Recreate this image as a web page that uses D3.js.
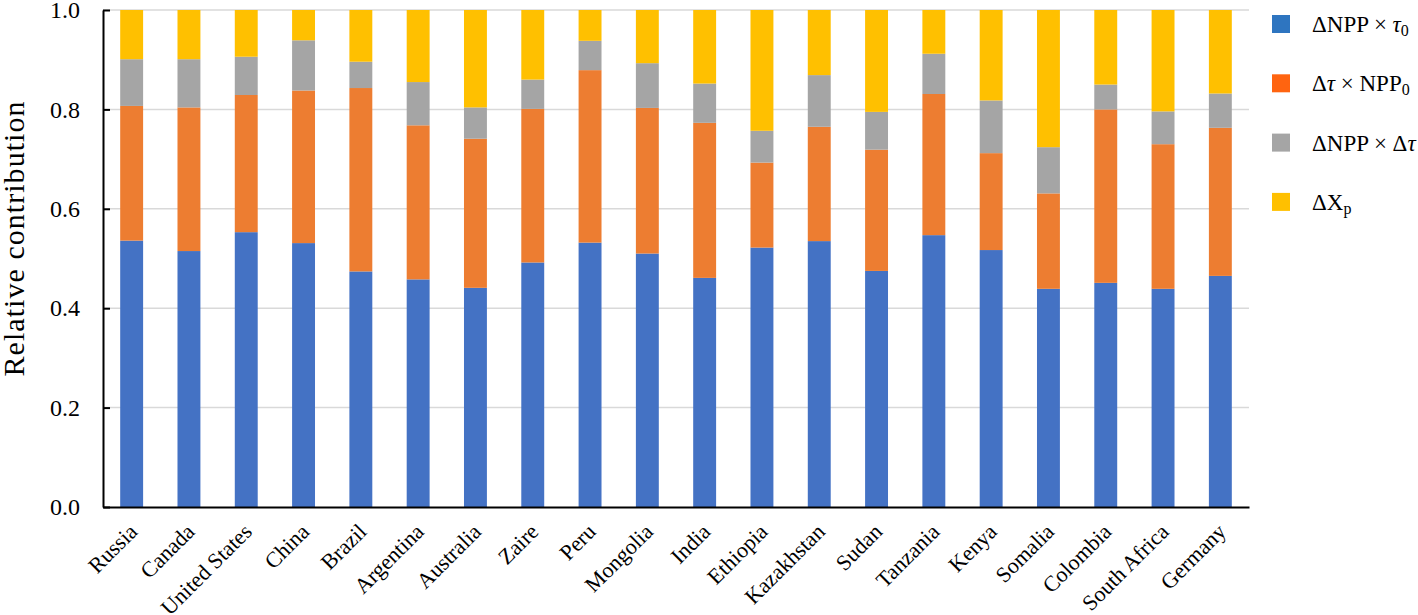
<!DOCTYPE html>
<html>
<head>
<meta charset="utf-8">
<script src="https://cdn.jsdelivr.net/npm/d3@7"></script>
<style>
  html, body { margin: 0; padding: 0; background: #fff; }
  svg { display: block; font-family: "Liberation Serif", "Times New Roman", serif; }
</style>
</head>
<body>
<svg id="chart" width="1418" height="615"></svg>
<script>
const categories = ["Russia","Canada","United States","China","Brazil","Argentina","Australia","Zaire","Peru","Mongolia","India","Ethiopia","Kazakhstan","Sudan","Tanzania","Kenya","Somalia","Colombia","South Africa","Germany"];
const dNPPxTau0 = [0.536,0.515,0.553,0.531,0.474,0.458,0.441,0.492,0.532,0.510,0.461,0.522,0.535,0.475,0.547,0.517,0.439,0.451,0.439,0.465];
const dTauxNPP0 = [0.271,0.289,0.276,0.307,0.369,0.310,0.300,0.309,0.347,0.293,0.312,0.171,0.230,0.244,0.284,0.195,0.192,0.349,0.291,0.298];
const dNPPxdTau = [0.094,0.097,0.077,0.101,0.053,0.087,0.063,0.059,0.059,0.090,0.079,0.064,0.104,0.076,0.081,0.106,0.093,0.050,0.066,0.069];
const dXp       = [0.099,0.099,0.094,0.061,0.104,0.145,0.196,0.140,0.062,0.107,0.148,0.243,0.131,0.205,0.088,0.182,0.276,0.150,0.204,0.168];
const yTicks = [0, 0.2, 0.4, 0.6, 0.8, 1.0];
const seriesKeys = ["a","b","c","d"];
const barColors = ["#4472C4","#ED7D31","#A5A5A5","#FFC000"];
const legendColors = ["#2E75C0","#FF6410","#A5A5A5","#FFC000"];

const rows = categories.map((c, i) => ({cat: c, a: dNPPxTau0[i], b: dTauxNPP0[i], c: dNPPxdTau[i], d: dXp[i]}));

const svg = d3.select("#chart");
const L = 103, R = 1249, T = 10, B = 507;

const x = d3.scaleBand().domain(categories).range([L, R]).paddingInner(0.6).paddingOuter(0.3);
const y = d3.scaleLinear().domain([0, 1]).range([B, T]);

// gridlines
svg.append("g").selectAll("line").data(yTicks.filter(d => d > 0)).join("line")
  .attr("x1", L).attr("x2", R)
  .attr("y1", d => y(d)).attr("y2", d => y(d))
  .attr("stroke", "#d9d9d9").attr("stroke-width", 1.5);

const stack = d3.stack().keys(seriesKeys)(rows);

svg.append("g").selectAll("g").data(stack).join("g")
  .attr("fill", (d, i) => barColors[i])
  .selectAll("rect").data(d => d).join("rect")
  .attr("x", d => x(d.data.cat))
  .attr("width", x.bandwidth())
  .attr("y", d => y(Math.min(1, d[1])))
  .attr("height", d => y(d[0]) - y(Math.min(1, d[1])));

// y axis (ticks pointing inward)
const yAxis = svg.append("g").attr("transform", `translate(${L},0)`)
  .call(d3.axisLeft(y).tickValues(yTicks).tickFormat(d3.format(".1f")).tickSizeInner(-7).tickSizeOuter(0).tickPadding(23));
yAxis.select(".domain").attr("stroke", "#000").attr("stroke-width", 2);
yAxis.selectAll(".tick line").attr("stroke", "#000").attr("stroke-width", 2);
yAxis.selectAll(".tick text").attr("font-size", 24).attr("fill", "#000")
  .attr("font-family", "Liberation Serif");

// x axis
const xAxis = svg.append("g").attr("transform", `translate(0,${B})`)
  .call(d3.axisBottom(x).tickSize(0).tickSizeOuter(0));
xAxis.select(".domain").attr("stroke", "#000").attr("stroke-width", 2);
xAxis.selectAll(".tick text")
  .attr("font-size", 22).attr("fill", "#000").attr("font-family", "Liberation Serif")
  .attr("text-anchor", "end")
  .attr("x", 0).attr("y", 0).attr("dy", 0)
  .attr("transform", "translate(7,26) rotate(-45)");

// y title
svg.append("text")
  .attr("transform", "translate(24,239) rotate(-90)")
  .attr("text-anchor", "middle")
  .attr("font-size", 30)
  .attr("textLength", 275)
  .attr("lengthAdjust", "spacing")
  .attr("fill", "#000")
  .text("Relative contribution");

// legend
const legendItems = [
  [{t:"ΔNPP × "},{t:"τ", it:true},{t:"0", sub:true}],
  [{t:"Δ"},{t:"τ", it:true},{t:" × NPP"},{t:"0", sub:true}],
  [{t:"ΔNPP × Δ"},{t:"τ", it:true}],
  [{t:"ΔX"},{t:"p", sub:true}]
];
const lg = svg.append("g");
legendItems.forEach((parts, i) => {
  const cy = 24 + i * 59.3;
  lg.append("rect").attr("x", 1272).attr("y", cy - 9).attr("width", 18).attr("height", 18)
    .attr("fill", legendColors[i]);
  const t = lg.append("text").attr("x", 1312).attr("y", cy + 8).attr("font-size", 23).attr("fill", "#000");
  let prevSub = false;
  parts.forEach(p => {
    const ts = t.append("tspan").text(p.t);
    if (p.it) ts.attr("font-style", "italic");
    if (p.sub) { ts.attr("font-size", 16).attr("dy", 4); prevSub = true; }
    else if (prevSub) { ts.attr("dy", -4); prevSub = false; }
  });
});
</script>
</body>
</html>
